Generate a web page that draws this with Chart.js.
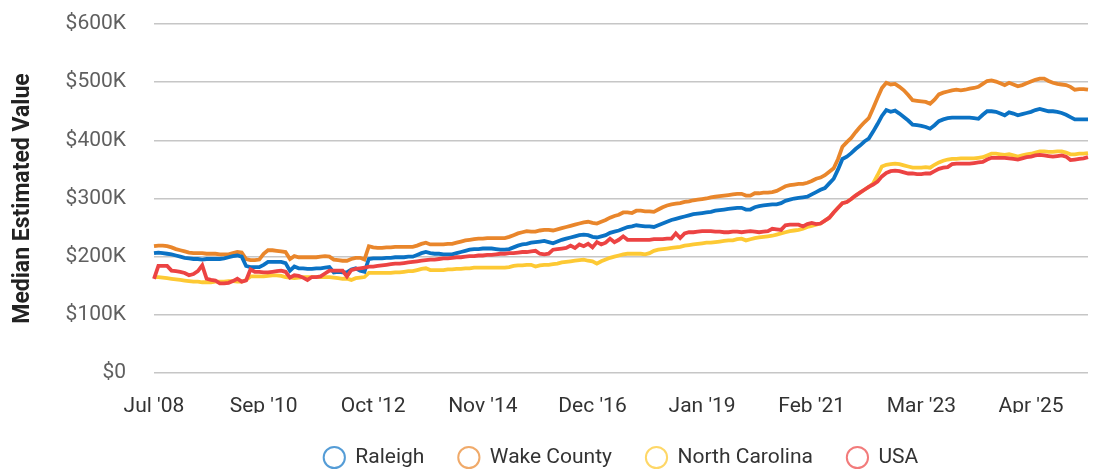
<!DOCTYPE html>
<html>
<head>
<meta charset="utf-8">
<script src="https://cdn.jsdelivr.net/npm/chart.js@4.4.1/dist/chart.umd.min.js"></script>
<style>
  html, body { margin: 0; padding: 0; background: #fff; }
</style>
</head>
<body>
<canvas id="line-chart" width="1097" height="470"></canvas>
<script>
// values in thousands of dollars, one per month (Aug '08 is missing in the source)
const seriesNames = ['Raleigh', 'Wake County', 'North Carolina', 'USA'];
const tickEvery = 25;
const monthNames = ['Jan', 'Feb', 'Mar', 'Apr', 'May', 'Jun', 'Jul', 'Aug', 'Sep', 'Oct', 'Nov', 'Dec'];

const raleigh = [
    206,207,206,205,204,202,200,198,197,196,
    196,195,196,196,196,196,197,199,201,202,
    200,184,182,182,182,186,191,191,191,191,
    189,176,183,180,180,179,179,180,180,181,
    182,173,174,173,173,178,180,176,174,196,
    197,197,197,198,198,199,199,199,200,200,
    203,206,208,206,205,205,204,204,204,206,
    208,210,212,213,213,214,214,214,213,212,
    212,213,216,219,221,222,224,225,226,227,
    225,223,226,229,231,233,235,237,238,237,
    234,233,235,237,241,243,245,248,251,252,
    254,253,252,252,251,254,257,260,263,265,
    267,269,271,273,274,275,276,277,279,280,
    281,282,283,284,284,281,281,285,287,288,
    289,290,290,292,296,298,300,301,302,303,
    307,311,315,318,326,334,350,368,372,378,
    385,391,398,403,415,428,442,452,449,451,
    446,440,434,427,426,425,423,420,426,433,
    436,438,439,439,439,439,439,438,437,444,
    450,450,449,446,443,448,446,443,445,447,
    449,452,454,452,450,450,449,447,444,440,
    436,436,436,436
];
const wakeCounty = [
    218,219,219,218,216,213,211,209,207,206,
    206,206,205,205,205,204,204,204,206,208,
    207,196,194,194,195,205,211,211,210,209,
    208,196,201,199,199,199,199,199,200,201,
    200,195,194,193,193,196,198,198,195,218,
    216,215,215,216,216,217,217,217,217,217,
    219,222,224,221,221,221,221,222,222,224,
    226,228,229,230,231,231,232,232,232,232,
    232,234,237,240,242,244,243,243,245,246,
    246,245,247,249,251,253,255,257,259,260,
    258,257,260,263,267,270,272,276,276,275,
    279,279,278,278,277,281,285,288,290,291,
    292,294,295,297,298,299,300,302,303,304,
    305,306,307,308,308,305,305,309,309,310,
    310,311,313,317,321,323,324,325,325,327,
    330,334,336,340,346,352,368,389,397,404,
    414,423,431,438,455,473,490,499,496,497,
    492,486,478,469,468,467,466,463,470,479,
    482,484,486,487,486,487,489,490,492,497,
    502,503,501,498,495,499,496,493,495,498,
    501,504,506,506,502,499,497,496,495,492,
    487,488,488,487
];
const northCarolina = [
    165,165,164,163,162,161,160,159,158,157,
    157,156,156,156,157,157,157,158,158,157,
    157,160,166,166,166,166,167,168,168,167,
    165,164,163,164,165,165,165,165,165,165,
    165,164,163,162,162,160,163,164,165,172,
    172,172,172,172,172,173,173,174,175,175,
    177,179,180,177,177,177,177,178,178,179,
    179,180,180,181,181,181,181,181,181,181,
    181,182,184,185,185,186,186,183,185,186,
    186,187,188,190,191,192,193,194,195,193,
    192,188,192,195,198,200,202,204,205,205,
    205,205,204,206,210,212,213,214,215,216,
    217,219,220,221,222,223,224,224,225,226,
    227,228,228,230,231,228,230,232,233,234,
    235,236,238,240,242,244,245,246,248,251,
    253,255,257,262,267,276,284,292,294,299,
    305,310,315,320,326,340,355,358,359,360,
    359,357,355,353,353,353,354,353,358,362,
    365,367,368,368,369,369,369,369,370,371,
    374,377,377,376,375,376,374,372,374,376,
    377,379,381,381,380,380,381,381,379,376,
    376,377,377,378
];
const usa = [
    162,184,184,184,176,175,174,172,168,170,
    175,185,162,160,159,154,154,155,158,162,
    157,159,178,174,174,173,173,174,175,176,
    174,164,168,167,164,160,165,165,166,171,
    176,176,176,176,166,177,179,180,181,183,
    183,184,185,186,187,188,188,189,190,191,
    192,193,194,195,195,196,197,197,198,199,
    199,200,201,201,202,202,203,203,204,205,
    205,206,206,207,208,208,209,210,205,204,
    205,212,213,214,215,219,215,221,218,222,
    216,225,221,224,231,225,229,235,229,229,
    229,229,229,229,230,230,230,231,231,240,
    232,240,242,242,243,244,244,244,243,243,
    242,242,243,243,242,243,244,243,242,243,
    244,248,247,246,254,255,255,255,252,256,
    258,256,257,262,267,276,284,292,294,299,
    305,310,315,320,324,329,338,344,347,348,
    347,345,343,343,342,342,343,343,347,351,
    353,354,359,360,360,360,360,361,362,363,
    367,370,370,370,370,369,368,367,369,371,
    372,374,375,374,373,372,373,374,372,366,
    367,368,369,371
];

// month labels: Jul '08, then Sep '08 onward
const categories = ["Jul '08"];
for (let k = 0; k < raleigh.length - 1; k++) {
    const m = 8 + k;
    categories.push(monthNames[m % 12] + " '" + String(2008 + Math.floor(m / 12)).slice(2));
}

const lineColors = ['#0b72c4', '#e9862b', '#fdc934', '#ec4343'];
const legendColors = ['rgba(11,114,196,0.7)', 'rgba(233,134,43,0.7)', 'rgba(253,201,52,0.75)', 'rgba(236,67,67,0.7)'];
const drawOrder = [1, 2, 3, 0];

// squeeze the legend box so the wide item spacing does not push the plot up
const legendFit = {
    id: 'legendFit',
    beforeInit(chart) {
        const fit = chart.legend.fit;
        chart.legend.fit = function () {
            fit.call(this);
            this.height = 57;
        };
    }
};

Chart.defaults.font.family = 'Roboto, "Noto Sans", sans-serif';

new Chart('line-chart', {
    type: 'line',
    data: {
        labels: categories,
        datasets: [raleigh, wakeCounty, northCarolina, usa].map((vals, i) => ({
            label: seriesNames[i],
            data: vals,
            borderColor: lineColors[i],
            backgroundColor: 'rgba(0,0,0,0)',
            borderWidth: 3.8,
            pointRadius: 0,
            pointStyle: 'circle',
            tension: 0,
            order: drawOrder[i]
        }))
    },
    options: {
        responsive: false,
        animation: false,
        layout: { padding: { top: 24, right: 9, left: 0, bottom: 0 } },
        plugins: {
            tooltip: { enabled: false },
            legend: {
                position: 'bottom',
                fullSize: false,
                labels: {
                    usePointStyle: true,
                    boxWidth: 21,
                    boxHeight: 15,
                    padding: 34,
                    color: '#333',
                    font: { size: 21 },
                    sort: (a, b) => a.datasetIndex - b.datasetIndex,
                    generateLabels: chart =>
                        Chart.defaults.plugins.legend.labels.generateLabels(chart).map(l => ({
                            ...l,
                            fillStyle: 'rgba(255,255,255,0)',
                            strokeStyle: legendColors[l.datasetIndex],
                            lineWidth: 2
                        }))
                }
            }
        },
        scales: {
            x: {
                grid: { drawOnChartArea: false, drawTicks: true, tickLength: 21, tickColor: 'rgba(0,0,0,0)' },
                border: { display: false },
                ticks: {
                    autoSkip: false,
                    maxRotation: 0,
                    padding: 0,
                    color: '#333',
                    font: { size: 21 },
                    callback: (v, i) => (i % tickEvery === 0 ? categories[i] : '')
                },
                afterFit: s => { s.height = 40; }
            },
            y: {
                min: 0,
                max: 600,
                grid: { color: '#c6c6c6', lineWidth: 1.5, drawTicks: true, tickLength: 28, tickColor: 'rgba(0,0,0,0)' },
                border: { display: false },
                ticks: {
                    stepSize: 100,
                    padding: 0,
                    color: '#5f5f5f',
                    font: { size: 21 },
                    callback: v => (v === 0 ? '$0' : '$' + v + 'K')
                },
                title: {
                    display: true,
                    text: 'Median Estimated Value',
                    color: '#222',
                    font: { size: 23, weight: 'bold' },
                    padding: { top: 9, bottom: 0 }
                },
                afterFit: s => { s.width = 154; }
            }
        }
    },
    plugins: [legendFit]
});
</script>
</body>
</html>
